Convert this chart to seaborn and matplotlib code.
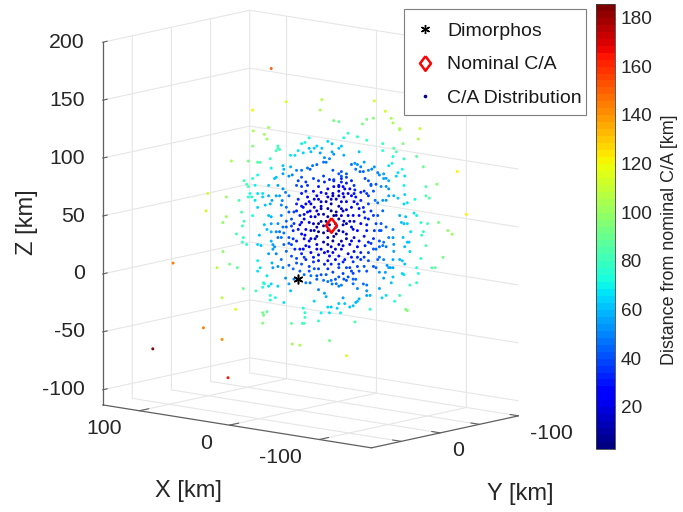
import matplotlib
matplotlib.use('Agg')
import matplotlib.pyplot as plt
from matplotlib.lines import Line2D
from matplotlib.patches import Rectangle
from mpl_toolkits.mplot3d import proj3d
import seaborn as sns

# C/A distribution [km] (depth along the view can only be estimated)
ca_x = [17,8,29,-15,-14,-23,-26,29,19,22, 20,29,43,32,26,24,18,13,13,12,
        14,5,2,0,-3,-2,-4,-7,-7,-8, -10,-12,-15,-14,-19,-22,-22,-23,-26,-28,
        -20,-17,-18,-16,-12,-9,-6,-8,10,9, 5,17,26,-2,1,4,6,10,14,15,
        35,29,33,32,58,46,38,31,28,26, 23,23,30,32,28,19,13,10,8,19,
        14,12,10,17,6,18,26,21,11,8, -49,-56,-76,-60,-61,-65,-65,-78,-77,-44,
        -41,-48,-32,-29,-38,-44,-54,-54,-61,-63, -67,-61,-68,-76,-60,-58,-80,-102,-89,-82,
        -82,-84,-67,-64,-63,-68,-68,-75,-68,-70, -68,-61,-64,-58,-56,-54,-49,-51,-53,-56,
        -58,-52,-55,-55,-56,-58,-51,-49,-47,-45, -43,-45,-47,-47,-48,-42,-40,-38,-36,-34,
        -37,-42,-40,-39,-29,-31,-28,-28,-26,-22, -23,-28,-31,-31,-26,-36,-36,-42,-40,-44,
        -45,-36,-34,-50,-79,-83,-90,-96,-99,-108, -76,-74,-70,-69,-66,-65,-68,-72,-80,-79,
        -67,-70,-71,-82,-68,-72,-61,-61,-58,-61, -55,-54,-52,-50,-45,-47,-52,-55,-61,-65,
        -67,-68,-79,-93,-88,-86,-76,-77,-68,-67, -61,-59,-57,-58,-52,-56,-61,-55,-60,-76,
        -72,-52,-65,-54,-56,-62,-69,-70,-46,-44, -44,-44,-42,-38,-35,-39,-37,-35,-33,-30,
        -29,-26,-25,-21,-46,-28,-31,-29,-32,-21, -22,-37,-34,-35,-38,-39,-42,-44,-48,-50,-51,
        59,46,48,36,36,35,29,40,35,36, 33,48,44,39,52,26,24,26,20,22,
        22,19,17,23,13,35,27,49,40,18, 15,18,9,20,23,22,5,8,3,6,
        -3,-4,-4,-10,-18,-17,-19,-15,-20,-27, 93,61,49,45,80,23,4,4,-1,-31,
        -20,-36,-3,-4,-13,-38,25,17,26,24, 16,15,16,19,14,11,17,16,13,10,
        6,1,-2,1,-4,-7,-10,-10,-13,-15, -12,-8,-4,-5,-8,-13,-19,-16,-24,-26,
        17,20,22,17,13,14,12,9,8,11, 6,17,19,11,4,3,0,3,4,9,
        8,4,-1,-5,-7,-4,-2,-5,-7,-1, -4,-8,-13,-15,-10,-13,-16,-19,-23,-26,
        -21,-17,-12,-8,-5,-13,-17,-21,-26,-22, -26,-18,-26,-20,-24,0,-5,-6,1,-2,
        -5,-16,-13,-17,-20,-23,-26,-23,-19,-15, -12,-10,-13,-7,-5,0,1,-2,-19,-22,
        -26,-24,-18,-21,-15,-10,-26,-29,-22,-26, -29,-32,-28,-31,-36,-40,-38,-45,-34,-29,
        -32,-26,-24,-29,-29,-31,-36,-39,-42,-48, -45,-50,-53,-56,-61,-49,-42,-39,-36,-33,
        -28,-28,-32,-22,-36,-40,-42,-38,-35,-29, -26,-31,-53,-45,-56,-22,-24,-6,-12,-16,
        -10,-16,-19,-12,4,3,6,8,-2,-4, -40,-44,-34,-19,-13,-31,-21,-18,-24,-19,
        -8,-12,-31,-35,-28,-15,-8,
        -2,-6,-10,-13,-18,-21,-29,-33,-37,-42, 1,-3,-8,-11,-15,-19,-23,-28,-31,-35,
        -39,-43,-47,-51,-54,-52,-48,-44,-38,-33, -29,-26,-24,-20,-16,-12,-8,-4,-1,3,
        1,-3,-7,-11,-15,-19,-24,-29,-34,-38, -43,-48,-52,-34,-30,-24,-19,-13,-10,-2,
        2,6,10,13,-7,-12,-29,-33,-40,-45, -1,3,-19,-24,-35,-30,-10,-2,-28,-34]
ca_y = [15,6,25,-13,-12,-19,-22,24,16,18, 17,25,36,27,22,21,15,11,11,10,
        12,4,2,0,-3,-2,-4,-6,-6,-7, -9,-10,-13,-12,-16,-18,-18,-19,-22,-23,
        -17,-14,-15,-14,-10,-8,-5,-6,8,8, 4,15,22,-2,1,3,5,8,12,13,
        29,25,28,27,49,39,32,26,23,22, 19,19,25,27,23,16,11,8,7,16,
        12,10,9,14,5,15,22,18,9,6, -41,-47,-64,-50,-51,-55,-55,-66,-65,-37,
        -35,-41,-27,-25,-32,-37,-46,-46,-52,-53, -57,-51,-57,-64,-51,-49,-68,-86,-75,-69,
        -69,-71,-56,-54,-53,-58,-57,-63,-58,-59, -57,-52,-54,-49,-48,-46,-42,-43,-45,-48,
        -49,-44,-46,-46,-48,-49,-43,-41,-40,-38, -36,-38,-39,-39,-41,-36,-34,-32,-31,-29,
        -31,-35,-33,-33,-25,-26,-23,-23,-22,-19, -19,-23,-26,-26,-22,-30,-31,-36,-34,-37,
        -38,-30,-29,-42,-66,-70,-76,-81,-83,-91, -64,-63,-59,-58,-56,-55,-57,-61,-68,-67,
        -57,-59,-60,-69,-58,-60,-52,-52,-49,-51, -46,-46,-44,-42,-38,-39,-44,-46,-51,-55,
        -56,-58,-66,-78,-74,-72,-64,-65,-57,-56, -51,-50,-48,-49,-44,-47,-51,-46,-50,-64,
        -60,-44,-55,-45,-48,-52,-58,-59,-39,-37, -37,-37,-35,-32,-30,-33,-31,-30,-28,-25,
        -24,-22,-21,-18,-39,-23,-26,-25,-27,-18, -18,-31,-29,-30,-32,-33,-36,-37,-41,-42,-43,
        50,39,41,31,30,29,25,33,30,30, 28,41,37,33,44,22,21,22,17,19,
        18,16,15,19,11,30,23,41,34,15, 12,15,8,17,19,19,4,7,2,5,
        -3,-4,-4,-9,-15,-14,-16,-12,-17,-23, 79,51,41,38,68,19,4,3,-1,-26,
        -17,-31,-2,-3,-11,-32,21,15,22,20, 14,13,14,16,12,9,14,14,11,8,
        5,1,-2,1,-3,-6,-8,-9,-11,-12, -10,-7,-3,-4,-6,-11,-16,-14,-21,-22,
        15,17,18,15,11,12,10,8,6,9, 5,15,16,9,4,2,0,3,4,8,
        6,4,-1,-4,-6,-3,-2,-4,-6,-1, -3,-7,-11,-12,-9,-11,-14,-16,-19,-22,
        -18,-14,-10,-7,-4,-11,-14,-18,-22,-19, -22,-15,-22,-17,-21,0,-4,-5,1,-2,
        -4,-14,-11,-14,-17,-19,-22,-19,-16,-12, -10,-9,-11,-6,-4,0,1,-2,-16,-19,
        -22,-21,-15,-18,-12,-9,-22,-24,-19,-22, -25,-27,-23,-26,-30,-34,-32,-38,-29,-24,
        -27,-22,-21,-25,-24,-26,-30,-33,-36,-41, -38,-42,-45,-48,-51,-41,-36,-33,-30,-28,
        -23,-23,-27,-19,-30,-34,-36,-32,-30,-24, -22,-26,-45,-38,-48,-19,-21,-5,-10,-14,
        -8,-14,-16,-10,4,2,5,6,-2,-3, -34,-37,-29,-16,-11,-26,-18,-15,-21,-16,
        -7,-10,-26,-30,-23,-12,-7,
        -2,-5,-8,-11,-15,-18,-24,-28,-31,-35, 1,-3,-6,-9,-12,-16,-19,-23,-26,-30,
        -33,-36,-39,-43,-46,-44,-41,-37,-32,-28, -24,-22,-20,-17,-14,-10,-7,-4,-1,3,
        1,-3,-6,-9,-12,-16,-20,-24,-29,-32, -36,-41,-44,-29,-25,-20,-16,-11,-8,-2,
        2,5,8,11,-6,-10,-24,-28,-34,-38, -1,3,-16,-20,-30,-25,-8,-2,-23,-29]
ca_z = [182,153,146,155,146,137,136,128,131,125, 121,115,102,102,101,101,104,115,113,112,
        111,107,107,111,109,117,118,122,113,110, 113,115,113,109,119,117,110,108,113,115,
        104,105,101,101,99,98,96,95,98,95, 97,96,90,94,94,90,89,91,88,87,
        85,87,82,80,74,71,68,74,81,74, 74,71,71,71,68,81,81,78,75,72,
        72,72,68,68,72,65,62,64,64,62, 154,145,142,139,135,129,130,130,121,138,
        134,139,126,122,123,120,117,111,113,110, 117,106,104,106,100,98,97,93,82,80,
        72,70,95,92,89,89,81,69,73,66, 65,72,70,72,68,68,68,66,80,80,
        78,90,91,87,87,85,92,97,95,94, 87,85,82,81,76,101,97,99,100,99,
        95,93,93,110,107,91,93,89,91,94, 86,84,88,83,81,81,77,76,75,74,
        72,74,72,82,49,48,49,42,39,56, 55,57,48,54,49,55,48,41,41,38,
        36,32,32,29,28,24,24,30,36,36, 32,29,28,26,23,31,19,17,17,17,
        16,13,18,19,10,10,10,5,4,5, 10,10,12,10,6,6,2,1,-3,-3,
        -5,-8,-14,-16,-14,-19,-26,-27,-14,-14, -10,-5,-4,-8,-4,-17,-20,-23,-24,-21,
        -16,-21,-25,-24,-26,-5,-1,0,2,-1, -4,0,7,5,11,7,11,7,11,10,17,
        59,54,49,58,46,50,55,39,36,32, 30,24,13,10,10,16,10,7,3,-3,
        -4,-6,-4,-7,-6,-8,-10,-16,-26,-14, -16,-18,-20,-28,-29,-31,-10,1,0,-4,
        -25,-29,-33,-19,-15,-12,-24,-29,-29,-29, -60,-42,-52,-85,14,-38,-38,-56,-57,-66,
        -53,-37,-38,-38,-36,-19,38,33,30,29, 30,28,26,22,22,17,14,10,11,10,
        12,14,13,18,19,11,15,9,9,4, 0,3,4,-3,-3,-9,-2,-1,-4,-6,
        41,43,47,48,48,41,41,40,45,36, 36,54,55,55,52,48,43,35,30,30,
        24,20,26,29,33,35,39,43,49,55, 56,54,56,50,42,41,32,36,37,30,
        28,23,26,23,17,16,13,13,13,6, 2,4,20,20,58,85,84,81,81,80,
        76,89,85,84,86,85,80,80,78,75, 72,69,69,67,65,69,65,63,71,74,
        76,69,67,65,63,62,63,80,72,72, 71,74,67,67,67,68,65,65,62,59,
        55,52,45,50,41,39,50,55,58,55, 52,48,48,45,43,42,37,33,36,30,
        33,26,22,23,24,23,19,19,15,15, 10,10,42,32,28,33,55,58,59,56,
        48,46,42,37,46,58,58,50,49,52, 48,42,45,54,48,48,59,50,39,30,
        35,30,35,43,61,61,65,
        74,71,76,80,74,69,74,78,71,62, 59,62,59,54,67,61,55,55,60,55,
        61,53,59,55,59,42,35,47,42,50, 47,42,48,47,40,45,42,38,47,42,
        33,26,28,35,26,24,26,29,33,28, 29,26,33,19,17,17,16,21,19,22,
        26,31,45,36,7,3,5,10,17,16, 7,9,9,0,0,78,87,88,87,85]
ca_dist = [150,115,122,108,103,92,90,103,100,100, 98,96,105,92,85,85,78,80,82,80,
           82,68,68,68,65,70,72,72,62,60, 62,65,60,55,65,62,55,52,62,62,
           50,52,48,48,45,47,47,45,60,58, 58,70,72,48,50,50,52,55,60,60,
           82,75,82,80,112,100,85,73,70,68, 68,65,72,75,68,60,55,52,50,58,
           55,55,50,55,48,58,65,60,50,48, 112,112,118,105,103,103,103,110,105,92,
           92,95,78,72,75,78,78,76,85,85, 95,72,78,88,70,68,90,120,96,85,
           85,85,72,68,65,68,70,72,65,68, 65,58,60,56,52,52,48,48,50,52,
           54,52,56,55,55,58,50,54,50,50, 42,42,42,42,42,55,50,52,52,48,
           48,45,45,60,58,42,42,42,42,42, 35,33,38,30,28,35,32,35,33,35,
           36,30,28,42,78,82,93,98,102,120, 70,68,65,60,60,58,62,68,78,78,
           62,62,62,85,60,65,55,52,50,52, 48,46,45,45,38,36,46,50,55,58,
           60,62,76,92,88,85,75,75,66,65, 55,55,54,56,52,55,60,56,60,78,
           78,56,78,65,68,75,95,95,58,55, 52,48,46,50,48,58,58,62,60,62,
           55,60,65,62,75,50,42,42,42,46, 48,45,38,38,38,40,40,42,42,45,44,
           112,100,98,85,82,80,72,85,78,78, 75,97,92,88,108,70,68,68,68,72,
           72,68,65,72,65,90,80,108,115,75, 72,75,68,88,92,92,62,54,50,55,
           72,75,78,65,58,56,65,70,68,70, 185,145,140,165,145,95,88,100,105,112,
           90,85,82,82,78,60,62,58,65,62, 55,52,55,55,50,48,58,55,52,50,
           45,40,40,38,36,38,36,40,38,42, 44,46,46,50,48,50,46,46,48,50,
           58,62,62,56,52,50,48,46,44,46, 42,58,60,50,40,36,30,35,38,44,
           44,40,30,26,22,26,26,22,18,32, 28,20,15,10,12,10,14,10,8,16,
           18,22,20,26,34,30,32,32,35,38, 42,40,26,26,10,38,36,35,40,38,
           33,38,36,32,34,33,28,26,26,26, 24,22,20,26,28,32,32,30,17,18,
           22,14,13,10,14,18,14,24,15,14, 20,24,15,20,28,32,30,38,24,16,
           20,10,6,13,12,16,24,28,32,36, 32,38,42,45,50,36,30,25,22,20,
           14,20,26,22,28,32,35,33,36,33, 38,38,42,34,46,8,6,22,16,12,
           12,7,6,12,38,38,42,44,26,24, 28,30,20,8,8,14,8,5,5,13,
           18,18,14,20,12,13,20,
           30,27,28,30,20,13,22,26,30,34, 34,28,22,16,16,9,6,12,18,24,
           28,32,36,40,44,40,36,30,26,17, 10,7,4,3,7,9,14,20,28,34,
           30,28,24,15,17,20,17,17,21,28, 33,40,42,30,30,26,28,26,30,32,
           34,40,48,48,42,42,38,38,36,40, 44,46,36,42,44,26,38,42,34,34]

dimorphos = (0, 0, 0)
nominal = (-21, -18, 47)

x_ticks = [100, 0, -100]
x_tick_labels = ['100', '0', '-100']
y_ticks = [50, 0, -50, -100]
y_tick_labels = ['', '0', '', '-100']
z_ticks = [-100, -50, 0, 50, 100, 150, 200]
z_tick_labels = ['-100', '-50', '0', '50', '100', '150', '200']
cbar_ticks = [20, 40, 60, 80, 100, 120, 140, 160, 180]

sns.set_style('white')
plt.rcParams['font.family'] = ['Liberation Sans', 'DejaVu Sans']
text_col = '#262626'
cmap = plt.get_cmap('jet', 64)
wide_diamond = [(0, 1), (0.75, 0), (0, -1), (-0.75, 0), (0, 1)]

fig = plt.figure(figsize=(6.83, 5.12), dpi=100)
W, H = 683, 512
side = 470
ax = fig.add_axes([69.2 / W, 41.6 / H, side / W, side / H], projection='3d', proj_type='ortho')
ax.patch.set_alpha(0)
ax.view_init(elev=10.75, azim=130.6)
ax.set_box_aspect((354, 226, 369), zoom=1.155)
xlo, xhi, ylo, yhi, zlo, zhi = -158, 141, -100, 88, -113, 200
ax.set_xlim(xlo, xhi, view_margin=0)
ax.set_ylim(ylo, yhi, view_margin=0)
ax.set_zlim(zlo, zhi, view_margin=0)

sc = ax.scatter(ca_x, ca_y, ca_z, c=ca_dist, cmap=cmap, vmin=2.6, vmax=185.6, s=4.5,
                linewidths=0, depthshade=False)
ax.plot(*[[v] for v in dimorphos], ls='', marker=(6, 2, 0), color='k', ms=7, mew=1.1, zorder=5)
ax.plot(*[[v] for v in nominal], ls='', marker=wide_diamond, mfc='none', mec='red', ms=10.5, mew=1.8, zorder=6)

ax.set_xticks(x_ticks)
ax.set_yticks(y_ticks)
ax.set_zticks(z_ticks)
ax.zaxis.set_ticks_position('upper')
for axis, factor in ((ax.xaxis, 0.8), (ax.yaxis, 0.4), (ax.zaxis, 0.4)):
    axis.set_pane_color((1, 1, 1, 0))
    axis.pane.set_edgecolor('none')
    axis.line.set_color('#5f5f5f')
    axis.line.set_linewidth(0.9)
    axis._axinfo['grid'].update(color='#e6e6e6', linewidth=0.8)
    axis._axinfo['tick'].update(inward_factor=0, outward_factor=factor, linewidth={True: 0.8, False: 0.8})
    for tick in axis.get_major_ticks():
        tick.label1.set_visible(False)
        tick.label2.set_visible(False)
ax.tick_params(color='#5f5f5f')


# tick labels sit just outside the box
def tick_text(x, y, z, s, ha):
    if s:
        px, py, _ = proj3d.proj_transform(x, y, z, ax.get_proj())
        ax.text2D(px, py, s, transform=ax.transData, ha=ha, va='center', fontsize=15.3, color=text_col)


for v, s in zip(x_ticks, x_tick_labels):
    tick_text(v, yhi + 22, zlo - 12.4, s, 'right')
for v, s in zip(y_ticks, y_tick_labels):
    tick_text(xlo - 12.7, v, zlo - 13.6, s, 'left')
for v, s in zip(z_ticks, z_tick_labels):
    tick_text(xhi, yhi + 23, v + 3.4, s, 'right')

fig.text(188 / W, 1 - 491 / H, 'X [km]', fontsize=17, color=text_col, ha='center', va='center')
fig.text(520 / W, 1 - 494 / H, 'Y [km]', fontsize=17, color=text_col, ha='center', va='center')
fig.text(27 / W, 1 - 222 / H, 'Z [km]', fontsize=17, color=text_col, ha='center', va='center', rotation=90)

cax = fig.add_axes([596 / W, 1 - 449 / H, 19 / W, 445 / H])
cbar = fig.colorbar(sc, cax=cax, ticks=cbar_ticks)
cbar.ax.tick_params(direction='in', length=3.5, width=0.7, labelsize=13.7, labelcolor=text_col, color='#404040', pad=4)
cbar.outline.set_edgecolor('#404040')
cbar.outline.set_linewidth(0.6)
fig.text(670 / W, 1 - 240 / H, 'Distance from nominal C/A [km]', fontsize=12.9, color=text_col,
         rotation=90, ha='center', va='center')

# legend frame is its own rectangle, the padding in the original is uneven
fig.add_artist(Rectangle((404 / W, 1 - 115 / H), 182 / W, 106 / H, transform=fig.transFigure,
                         facecolor='white', edgecolor='#7f7f7f', linewidth=0.8, zorder=10))
handles = [Line2D([], [], ls='', marker=(6, 2, 0), color='k', ms=6.5, mew=1),
           Line2D([], [], ls='', marker=wide_diamond, mfc='none', mec='red', ms=10.5, mew=1.8),
           Line2D([], [], ls='', marker='o', color='#00008f', ms=1.6)]
leg = fig.legend(handles, ['Dimorphos', 'Nominal C/A', 'C/A Distribution'], loc='upper left',
                 bbox_to_anchor=(411.5 / W, 1 - 22 / H), bbox_transform=fig.transFigure, fontsize=14,
                 frameon=False, borderaxespad=0, borderpad=0, labelspacing=0.83,
                 handletextpad=0.44, handlelength=1.4)
leg.set_zorder(11)
for t in leg.get_texts():
    t.set_color('#1a1a1a')

fig.savefig('out.png', dpi=100)
